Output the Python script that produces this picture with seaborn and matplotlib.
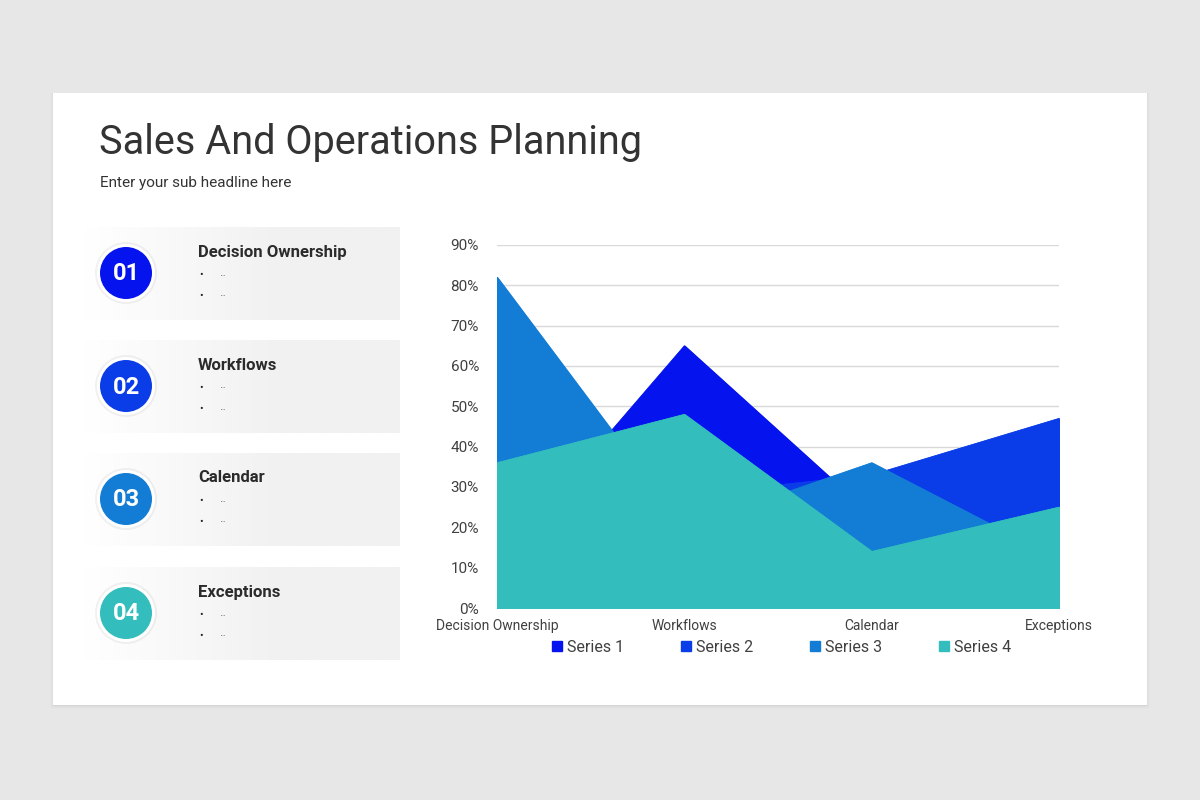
import numpy as np
import pandas as pd
import seaborn as sns
import matplotlib.pyplot as plt
from matplotlib.patches import Rectangle, Circle
from matplotlib.lines import Line2D
from matplotlib.colors import LinearSegmentedColormap
from matplotlib.ticker import PercentFormatter

# chart data
categories = ['Decision Ownership', 'Workflows', 'Calendar', 'Exceptions']
series_names = ['Series 1', 'Series 2', 'Series 3', 'Series 4']
series_1 = [0.11, 0.65, 0.23, 0.20]
series_2 = [0.25, 0.28, 0.33, 0.47]
series_3 = [0.82, 0.20, 0.36, 0.12]
series_4 = [0.36, 0.48, 0.14, 0.25]
colors = ['#0514ee', '#0a3de8', '#137dd6', '#33bebd']

# left panel items
item_numbers = ['01', '02', '03', '04']
item_titles = ['Decision Ownership', 'Workflows', 'Calendar', 'Exceptions']

df = pd.DataFrame({'category': categories, 'Series 1': series_1, 'Series 2': series_2,
                   'Series 3': series_3, 'Series 4': series_4})
df['x'] = np.arange(len(categories))

sns.set_theme(style='white')
plt.rcParams['font.family'] = ['Roboto', 'DejaVu Sans']

fig = plt.figure(figsize=(12, 8), dpi=100)
fig.patch.set_facecolor('#e8e7e8')

# background layer in pixel coordinates
bg = fig.add_axes([0, 0, 1, 1])
bg.axis('off')
for i, a in enumerate([0.03, 0.02, 0.012, 0.008]):
    bg.add_patch(Rectangle((53 - i, 93), 1094 + 2 * i, 612 + 1 + i, fc='black', alpha=a, lw=0))
bg.add_patch(Rectangle((53, 93), 1094, 612, fc='white', lw=0))

bg.text(99, 143, 'Sales And Operations Planning', fontsize=28.5, color='#333333',
        va='center', ha='left')
bg.text(100, 183, 'Enter your sub headline here', fontsize=11, color='#333333',
        va='center', ha='left')

grad_cmap = LinearSegmentedColormap.from_list('panel', ['#ffffff', '#f1f1f1'])
grad = np.clip(np.linspace(0, 1.6, 256), 0, 1).reshape(1, -1)
panel_tops = [227, 340, 453, 567]
for i, top in enumerate(panel_tops):
    bg.imshow(grad, extent=(84, 400, top + 93, top), cmap=grad_cmap, aspect='auto', zorder=1)
    cy = top + 46
    bg.add_patch(Circle((126, cy), 31, fc='#000000', alpha=0.05, lw=0, zorder=2))
    bg.add_patch(Circle((126, cy), 29, fc='white', lw=0, zorder=3))
    bg.add_patch(Circle((126, cy), 26, fc=colors[i], lw=0, zorder=4))
    bg.text(126, cy + 1, item_numbers[i], fontsize=17, fontweight='bold', color='white',
            ha='center', va='center', zorder=5)
    bg.text(198, top + 25, item_titles[i], fontsize=12, fontweight='bold', color='#2b2b2b',
            ha='left', va='center', zorder=5)
    for k in range(2):
        by = top + 48 + k * 21
        bg.text(199, by, '•', fontsize=7.5, color='#222222', ha='left', va='center', zorder=5)
        bg.text(219, by - 3, '..', fontsize=9.5, color='#777777', ha='left', va='center', zorder=5)

bg.set_xlim(0, 1200)
bg.set_ylim(800, 0)

# area chart, series drawn back to front; each fill gets an edge of its own
# colour so the clipped borders stay solid
ax = fig.add_axes([497 / 1200, 192 / 800, 562 / 1200, 363 / 800])
ax.set_facecolor('none')
for name, col in zip(series_names, colors):
    ax.fill_between(df['x'], 0, df[name], facecolor=col, edgecolor=col, lw=1.2, zorder=2)
    sns.lineplot(data=df, x='x', y=name, ax=ax, color=col, lw=0.6, zorder=2)

ax.set_xlim(0, len(categories) - 1)
ax.set_ylim(0, 0.9)
ax.set_yticks(np.arange(0, 0.91, 0.1))
ax.yaxis.set_major_formatter(PercentFormatter(1.0, decimals=0))
ax.set_xticks(df['x'])
ax.set_xticklabels(categories)
for lbl in ax.get_xticklabels():
    lbl.set_va('baseline')
ax.grid(axis='y', color='#d9d9d9', lw=1, zorder=0)
ax.set_axisbelow(True)
for s in ax.spines.values():
    s.set_visible(False)
ax.tick_params(axis='y', labelsize=11, colors='#404040', pad=13, length=0)
ax.tick_params(axis='x', labelsize=10, colors='#404040', pad=15.5, length=0)
ax.set_xlabel('')
ax.set_ylabel('')

handles = [Line2D([], [], marker='s', ls='', color=c, markersize=6.5) for c in colors]
fig.legend(handles, series_names, loc='center', bbox_to_anchor=(781 / 1200, 1 - 647 / 800),
           ncol=4, frameon=False, fontsize=11.5, handlelength=0.8, handletextpad=0.2,
           columnspacing=3.5, labelcolor='#404040')

fig.savefig('out.png', dpi=100, facecolor=fig.get_facecolor())
